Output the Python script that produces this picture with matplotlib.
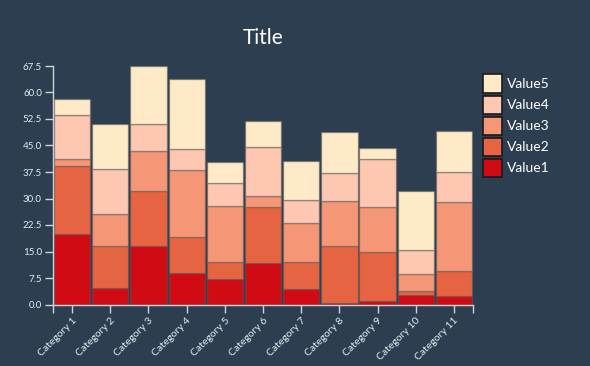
import matplotlib
matplotlib.use("agg")
import matplotlib.pyplot as plt
import numpy as np

categories = ["Category %d" % i for i in range(1, 12)]
value1 = [20.0, 4.6, 16.6, 9.0, 7.2, 11.8, 4.3, 0.3, 1.1, 2.8, 2.4]
value2 = [19.3, 12.0, 15.4, 10.2, 4.8, 15.8, 7.6, 16.3, 13.8, 0.9, 7.1]
value3 = [1.9, 8.9, 11.4, 19.0, 15.8, 3.1, 11.1, 12.7, 12.6, 4.8, 19.6]
value4 = [12.3, 12.8, 7.6, 5.7, 6.5, 14.0, 6.5, 7.8, 13.6, 6.9, 8.3]
value5 = [4.6, 12.7, 16.5, 19.8, 5.9, 7.2, 11.0, 11.7, 3.1, 16.8, 11.7]
series = ["Value1", "Value2", "Value3", "Value4", "Value5"]
colors = ["#d10b13", "#e66442", "#f59677", "#fdc7b1", "#feeac6"]
y_ticks = [0, 7.5, 15, 22.5, 30, 37.5, 45, 52.5, 60, 67.5]

bg = "#2c3e50"
fg = "#e6edf3"
axis_col = "#cfd4d8"
plt.rcParams["font.family"] = ["Lato", "DejaVu Sans"]

fig = plt.figure(figsize=(5.9, 3.66), dpi=100, facecolor=bg)
ax = fig.add_axes([53 / 590, 61.5 / 366, 420 / 590, 238.5 / 366])
ax.set_facecolor(bg)

x = np.arange(len(categories))
bottom = np.zeros(len(categories))
bars = []
for name, vals, col in zip(series, [value1, value2, value3, value4, value5], colors):
    b = ax.bar(x, vals, width=0.95, bottom=bottom, color=col, label=name,
               edgecolor=(0.35, 0.35, 0.35, 0.45), linewidth=1)
    bars.append(b)
    bottom += np.array(vals)

ax.set_xlim(-0.5, len(categories) - 0.5)
ax.set_ylim(0, 67.5)
ax.set_yticks(y_ticks)
ax.set_yticklabels(["%.1f" % t for t in y_ticks])
ax.set_xticks(x)
ax.set_xticklabels(categories, rotation=45, ha="right", rotation_mode="anchor")
ax.set_xticks([-0.5, len(categories) - 0.5], minor=True)

for s in ["top", "right"]:
    ax.spines[s].set_visible(False)
for s in ["left", "bottom"]:
    ax.spines[s].set_color(axis_col)
    ax.spines[s].set_linewidth(1)
ax.tick_params(axis="both", which="both", colors=axis_col, labelcolor=fg,
               length=6, width=1, labelsize=7, pad=2)
ax.tick_params(axis="x", labelsize=7.5)

fig.text(263 / 590, 1 - 38 / 366, "Title", color="white", fontsize=15,
         ha="center", va="center")

handles = bars[::-1]
labels = series[::-1]
leg = fig.legend(handles, labels, loc="upper left", bbox_to_anchor=(470 / 590, 1 - 62 / 366),
                 frameon=False, fontsize=10, labelcolor="white", handlelength=1.37,
                 handleheight=1.65, handletextpad=0.4, labelspacing=0.2)
for h in leg.legend_handles:
    h.set_edgecolor("#1a1a1a")
    h.set_linewidth(1.2)

fig.savefig("out.png", dpi=100, facecolor=bg)
plt.close(fig)
